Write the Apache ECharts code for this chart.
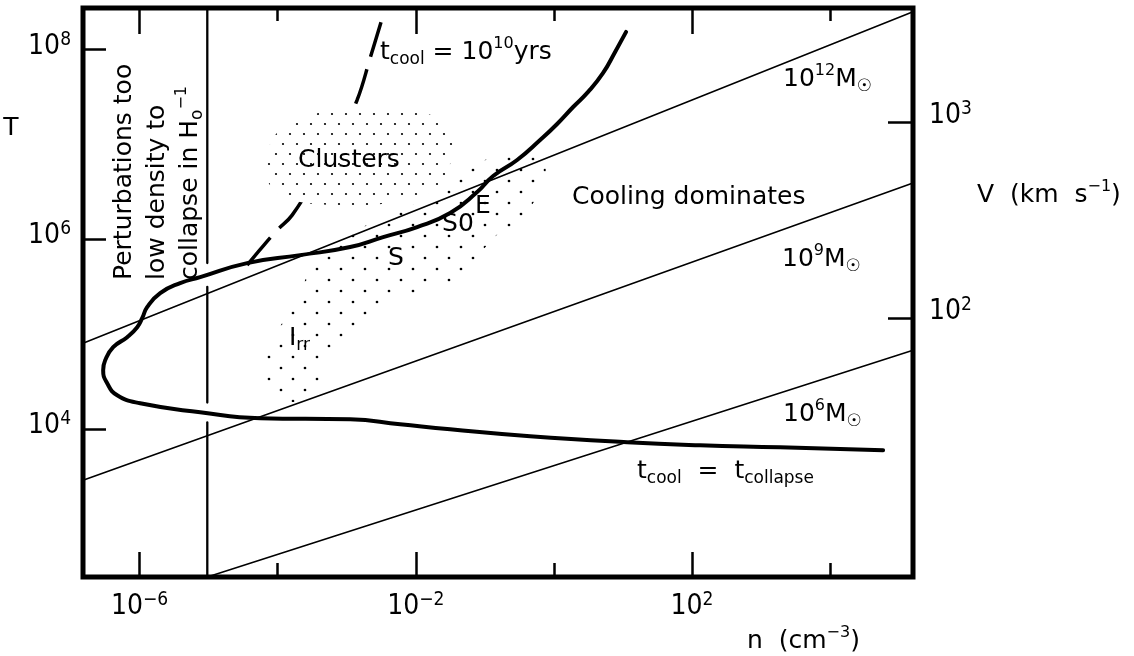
<!DOCTYPE html>
<html>
<head>
<meta charset="utf-8">
<script src="https://cdn.jsdelivr.net/npm/echarts@6/dist/echarts.min.js"></script>
<style>
  html, body { margin: 0; padding: 0; background: #fff; }
  #chart { width: 1134px; height: 656px; }
</style>
</head>
<body>
<div id="chart"></div>
<script>
// All values are decimal exponents: log10 n (cm^-3), log10 T (K), log10 V (km/s).
const nRange = [-6.82, 5.2];
const tRange = [2.44, 8.44];
const vRange = [0.68, 3.58];

const nLabelTicks = [-6, -2, 2];
const nMinorTicks = [-4, 0, 4];
const tTicks = [4, 6, 8];
const vTicks = [2, 3];

// t_cool = t_collapse
const coolCollapse = [
  [1.045, 8.188], [0.886, 7.977], [0.712, 7.755], [0.495, 7.555], [0.278, 7.396],
  [0.046, 7.217], [-0.200, 7.048], [-0.533, 6.837], [-0.880, 6.668], [-1.112, 6.500],
  [-1.503, 6.278], [-1.981, 6.130], [-2.473, 6.024], [-2.951, 5.919], [-3.675, 5.834],
  [-4.443, 5.750], [-5.123, 5.602], [-5.413, 5.539], [-5.702, 5.433], [-5.891, 5.285],
  [-5.963, 5.169], [-6.035, 5.074], [-6.180, 4.969], [-6.383, 4.863], [-6.499, 4.726],
  [-6.528, 4.621], [-6.470, 4.483], [-6.325, 4.357], [-5.992, 4.272], [-5.123, 4.177],
  [-4.254, 4.114], [-2.951, 4.103], [-2.227, 4.051], [-1.503, 3.998], [-0.345, 3.924],
  [1.060, 3.861], [2.117, 3.829], [3.275, 3.808], [4.767, 3.776]
];

// t_cool = 10^10 yrs
const coolHubble = [
  [-4.443, 5.729], [-4.225, 5.919], [-4.008, 6.098], [-3.791, 6.256], [-3.385, 6.732],
  [-3.096, 7.101], [-2.850, 7.470], [-2.661, 7.913], [-2.473, 8.367]
];

// virial temperature lines for fixed mass
const mass12 = [[-6.82, 4.906], [5.2, 8.40]];
const mass9 = [[-6.82, 3.460], [5.2, 6.594]];
const mass6 = [[-5.02, 2.44], [5.2, 4.832]];

// density below which perturbations cannot collapse within a Hubble time
const collapseLimit = [
  [[-5.02, 2.44], [-5.02, 4.07]],
  [[-5.02, 4.28], [-5.02, 5.50]],
  [[-5.02, 5.75], [-5.02, 8.44]]
];

// stippled regions: galaxy clusters and individual galaxies
const clusterRegion = [
  [-4.138, 6.942], [-4.037, 7.101], [-3.820, 7.217], [-3.530, 7.312], [-3.096, 7.365],
  [-2.661, 7.386], [-2.227, 7.386], [-1.865, 7.333], [-1.604, 7.238], [-1.474, 7.101],
  [-1.474, 6.890], [-1.575, 6.678], [-1.792, 6.499], [-2.155, 6.415], [-2.661, 6.362],
  [-3.241, 6.362], [-3.675, 6.394], [-3.965, 6.468], [-4.138, 6.605], [-4.182, 6.784]
];
const galaxyRegion = [
  [-4.225, 4.768], [-3.892, 5.169], [-3.603, 5.570], [-3.385, 5.908], [-3.023, 6.045],
  [-2.227, 6.309], [-1.575, 6.520], [-1.286, 6.732], [-0.605, 6.921], [-0.200, 6.890],
  [-0.127, 6.626], [-0.272, 6.415], [-0.518, 6.183], [-0.779, 6.077], [-1.069, 5.855],
  [-1.430, 5.570], [-2.082, 5.402], [-2.444, 5.307], [-2.661, 5.127], [-2.951, 5.042],
  [-3.197, 4.810], [-3.356, 4.568], [-3.501, 4.346], [-3.747, 4.283], [-4.037, 4.389]
];

const INK = '#000';
const LETTER = 'DejaVu Sans';
const DIGIT = '"DejaVu Sans Condensed", sans-serif';

function dotPattern(w, h, dots, r, bg) {
  const c = document.createElement('canvas');
  c.width = w; c.height = h;
  const g = c.getContext('2d');
  if (bg) { g.fillStyle = bg; g.fillRect(0, 0, w, h); }
  g.fillStyle = INK;
  dots.forEach(([x, y]) => { g.beginPath(); g.arc(x, y, r, 0, Math.PI * 2); g.fill(); });
  return { type: 'pattern', image: c, repeat: 'repeat' };
}

const clusterFill = dotPattern(14, 20, [[3, 4], [10, 14]], 1.1, '#fff');
const galaxyFill = dotPattern(24, 22, [[5, 5], [17, 16]], 1.35, null);

function exponent(v) {
  return v < 0 ? '\u2212' + (-v) : String(v);
}

// power-of-ten tick labels with a raised exponent
const expRich = {
  b: { fontFamily: DIGIT, fontSize: 28, lineHeight: 30, verticalAlign: 'bottom', color: INK },
  s: { fontFamily: DIGIT, fontSize: 19, lineHeight: 30, verticalAlign: 'top', color: INK }
};

function powerLabel(v) { return '{b|10}{s|' + exponent(v) + '}'; }

function lineSeries(data, width, z, extra) {
  return Object.assign({
    type: 'line', data: data, xAxisIndex: 0, yAxisIndex: 0, symbol: 'none',
    silent: true, z: z, clip: true,
    lineStyle: { color: INK, width: width, cap: 'round' }
  }, extra || {});
}

function regionSeries(pts, fill, z) {
  return {
    type: 'custom', coordinateSystem: 'cartesian2d', xAxisIndex: 0, yAxisIndex: 0,
    data: [pts[0]], z: z, silent: true,
    renderItem: function (params, api) {
      return {
        type: 'polygon',
        shape: { points: pts.map(p => api.coord(p)), smooth: 0.4 },
        style: { fill: fill, stroke: null }
      };
    }
  };
}

function xAxisDef(position, ticks, length, withLabels) {
  return {
    type: 'value', position: position, min: nRange[0], max: nRange[1], gridIndex: 0,
    axisLine: { show: false, onZero: false }, splitLine: { show: false },
    axisTick: { show: true, inside: true, length: length, customValues: ticks,
                lineStyle: { color: INK, width: 2.5 } },
    axisLabel: withLabels
      ? { show: true, customValues: ticks, margin: 14, formatter: powerLabel, rich: expRich }
      : { show: false }
  };
}

const mainRich = {
  m: { fontFamily: LETTER, fontSize: 25, lineHeight: 32, color: INK },
  p: { fontFamily: LETTER, fontSize: 16, lineHeight: 32, verticalAlign: 'top', color: INK },
  b: { fontFamily: LETTER, fontSize: 17, lineHeight: 32, verticalAlign: 'bottom', color: INK }
};

function note(x, y, text, align, extra) {
  return Object.assign({
    type: 'text', x: x, y: y, z: 100, silent: true,
    style: { text: text, rich: mainRich, fill: INK, font: '25px ' + LETTER,
             align: align || 'left', verticalAlign: 'middle',
             textAlign: align || 'left', textVerticalAlign: 'middle' }
  }, extra || {});
}

const chart = echarts.init(document.getElementById('chart'), null, { renderer: 'canvas' });

chart.setOption({
  animation: false,
  backgroundColor: '#fff',
  grid: {
    left: 83, top: 8, right: 221, bottom: 79,
    containLabel: false, outerBoundsMode: 'none',
    show: true, borderWidth: 5, borderColor: INK, backgroundColor: 'transparent'
  },
  xAxis: [
    xAxisDef('bottom', nLabelTicks, 25, true),
    xAxisDef('bottom', nMinorTicks, 14, false),
    xAxisDef('top', nLabelTicks, 26, false),
    xAxisDef('top', nMinorTicks, 13, false)
  ],
  yAxis: [
    {
      type: 'value', position: 'left', min: tRange[0], max: tRange[1],
      axisLine: { show: false, onZero: false }, splitLine: { show: false },
      axisTick: { show: true, inside: true, length: 23, customValues: tTicks,
                  lineStyle: { color: INK, width: 2.5 } },
      axisLabel: { show: true, customValues: tTicks, margin: 12, verticalAlign: 'middle',
                   padding: [0, 0, 9, 0], formatter: powerLabel, rich: expRich }
    },
    {
      type: 'value', position: 'right', min: vRange[0], max: vRange[1],
      axisLine: { show: false, onZero: false }, splitLine: { show: false },
      axisTick: { show: true, inside: true, length: 25, customValues: vTicks,
                  lineStyle: { color: INK, width: 2.5 } },
      axisLabel: { show: true, customValues: vTicks, margin: 16, verticalAlign: 'middle',
                   padding: [0, 0, 15, 0], formatter: powerLabel, rich: expRich }
    }
  ],
  series: [
    regionSeries(galaxyRegion, galaxyFill, 1),
    lineSeries(mass12, 1.6, 2),
    lineSeries(mass9, 1.6, 2),
    lineSeries(mass6, 1.6, 2),
    ...collapseLimit.map(seg => lineSeries(seg, 2.3, 2)),
    lineSeries(coolHubble, 3.5, 2, { smooth: 0.4,
      lineStyle: { color: INK, width: 3.5, type: [36, 13], cap: 'butt' } }),
    regionSeries(clusterRegion, clusterFill, 3),
    lineSeries(coolCollapse, 4, 4, { smooth: 0.5 })
  ],
  graphic: [
    note(11, 128, 'T', 'center'),
    note(977, 195, '{m|V  (km  s}{p|\u22121}{m|)}'),
    note(747, 641, '{m|n  (cm}{p|\u22123}{m|)}'),
    note(124, 280, '{m|Perturbations too}', 'left', { rotation: Math.PI / 2 }),
    note(157, 280, '{m|low density to}', 'left', { rotation: Math.PI / 2 }),
    note(190, 280, '{m|collapse in H}{b|o}{p|\u22121}', 'left', { rotation: Math.PI / 2 }),
    note(349, 160, '{m|Clusters}', 'center'),
    note(572, 197, '{m|Cooling dominates}'),
    note(396, 258, '{m|S}', 'center'),
    note(458, 224, '{m|S0}', 'center'),
    note(483, 206, '{m|E}', 'center'),
    note(289, 338, '{m|I}{b|rr}'),
    note(380, 52, '{m|t}{b|cool}{m| = 10}{p|10}{m|yrs}'),
    note(783, 79, '{m|10}{p|12}{m|M}{b|\u2609}'),
    note(782, 259, '{m|10}{p|9}{m|M}{b|\u2609}'),
    note(783, 414, '{m|10}{p|6}{m|M}{b|\u2609}'),
    note(637, 471, '{m|t}{b|cool}{m|  =  t}{b|collapse}')
  ]
});
</script>
</body>
</html>
